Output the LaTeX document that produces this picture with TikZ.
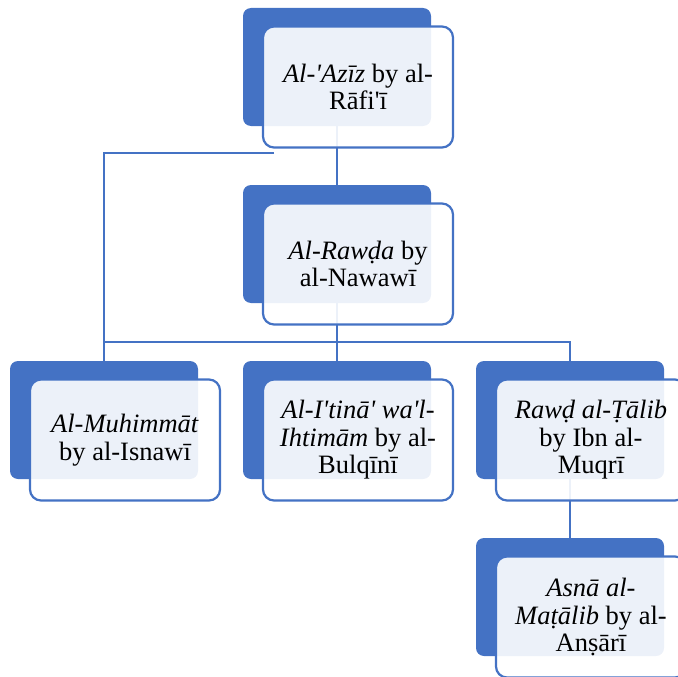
\documentclass[tikz,border=0pt]{standalone}
\usepackage{fontspec}
\setmainfont{Liberation Serif}[Ligatures=TeXOff]
\definecolor{accent}{HTML}{4472C4}
\tikzset{
	back/.style={fill=accent, rounded corners=8pt, minimum width=188pt, minimum height=118pt, inner sep=0pt},
	front/.style={draw=accent, line width=2.2pt, fill=white, fill opacity=0.9, text opacity=1, rounded corners=11pt, minimum width=190pt, minimum height=121pt, inner sep=0pt, align=center, font=\fontsize{26.5}{27.5}\selectfont},
	link/.style={draw=accent, line width=2pt}
}

\begin{document}
\begin{tikzpicture}[x=1pt,y=-1pt]
	\useasboundingbox (0,0) rectangle (678,677);
	\node[back] (aziz-b) at (337,67) {};
	\node[back] (rawda-b) at (337,244) {};
	\node[back] (muhim-b) at (104,420) {};
	\node[back] (itina-b) at (337,420) {};
	\node[back] (talib-b) at (570,420) {};
	\node[back] (asna-b) at (570,597) {};
	\coordinate (tap) at (274,153);
	\coordinate (bus) at (337,342);
	\draw[link] (aziz-b) -- (rawda-b);
	\draw[link] (tap) -- (muhim-b.north |- tap) -- (muhim-b.north);
	\draw[link] (muhim-b.north |- bus) -- (talib-b.north |- bus) -- (talib-b.north);
	\draw[link] (rawda-b) -- (itina-b);
	\draw[link] (talib-b) -- (asna-b);
	\node[front] (aziz) at (358,87) {\textit{Al-'Azīz} by al-\\Rāfi'ī};
	\node[front] (rawda) at (358,264) {\textit{Al-Rawḍa} by\\al-Nawawī};
	\node[front] (muhim) at (125,440) {\textit{Al-Muhimmāt}\\by al-Isnawī};
	\node[front] (itina) at (358,440) {\textit{Al-I'tinā' wa'l-}\\\textit{Ihtimām} by al-\\Bulqīnī};
	\node[front] (talib) at (591,440) {\textit{Rawḍ al-Ṭālib}\\by Ibn al-\\Muqrī};
	\node[front] (asna) at (591,617) {\textit{Asnā al-}\\\textit{Maṭālib} by al-\\Anṣārī};
\end{tikzpicture}
\end{document}
